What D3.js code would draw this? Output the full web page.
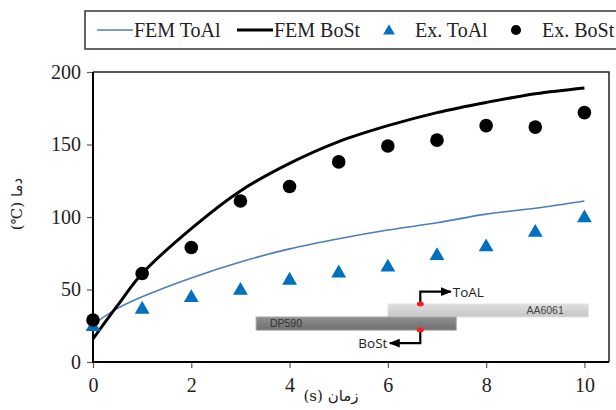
<!DOCTYPE html>
<html>
<head>
<meta charset="utf-8">
<script src="https://cdn.jsdelivr.net/npm/d3@7"></script>
<style>
  body { margin: 0; background: #fff; }
  svg { display: block; }
  .serif { font-family: "Liberation Serif", "DejaVu Serif", serif; }
</style>
</head>
<body>
<svg id="chart" width="616" height="410"></svg>
<script>
// Data
const time = [0, 1, 2, 3, 4, 5, 6, 7, 8, 9, 10]
const exToAl = [25, 37, 45, 50, 57, 62, 66, 74, 80, 90, 100]
const exBoSt = [29, 61, 79, 111, 121, 138, 149, 153, 163, 162, 172]

const femTime = [0, 0.5, 1, 2, 3, 4, 5, 6, 7, 8, 9, 10]
const femToAl = [26, 37, 45, 58, 69, 78, 85, 91, 96, 102, 106, 111]
const femBoSt = [16, 39, 61, 92, 118, 137, 152, 163, 172, 179, 185, 189]

const xTicks = [0, 2, 4, 6, 8, 10]
const yTicks = [0, 50, 100, 150, 200]

const legendItems = [
  { label: 'FEM ToAl', type: 'line', color: '#4a7ebb', width: 1.6, x: 97 },
  { label: 'FEM BoSt', type: 'line', color: '#000', width: 3, x: 237 },
  { label: 'Ex. ToAl', type: 'tri', color: '#0070c0', x: 380 },
  { label: 'Ex. BoSt', type: 'dot', color: '#000', x: 507 }
]

const svg = d3.select('#chart')
const plot = { left: 93, right: 609, top: 72, bottom: 362 }

const x = d3.scaleLinear().domain([0, 10.5]).range([plot.left, plot.right])
const y = d3.scaleLinear().domain([0, 200]).range([plot.bottom, plot.top])

// Legend box
svg.append('rect')
  .attr('x', 85).attr('y', 11).attr('width', 545).attr('height', 38)
  .attr('fill', '#fff').attr('stroke', '#333').attr('stroke-width', 1.5)

const legend = svg.append('g').attr('class', 'serif')
legendItems.forEach(d => {
  if (d.type === 'line') {
    legend.append('line')
      .attr('x1', d.x).attr('x2', d.x + 36).attr('y1', 30).attr('y2', 30)
      .attr('stroke', d.color).attr('stroke-width', d.width)
    legend.append('text').attr('x', d.x + 37).attr('y', 37)
      .attr('font-size', 20).attr('fill', '#222').text(d.label)
  } else {
    legend.append('path')
      .attr('d', d3.symbol(d.type === 'tri' ? d3.symbolTriangle : d3.symbolCircle, d.type === 'tri' ? 60 : 80)())
      .attr('transform', `translate(${d.x + 9},${d.type === 'tri' ? 31 : 30})`)
      .attr('fill', d.color)
    legend.append('text').attr('x', d.x + 35).attr('y', 37)
      .attr('font-size', 20).attr('fill', '#222').text(d.label)
  }
})

// Frame (top and right)
svg.append('path')
  .attr('d', `M${plot.left},${plot.top}H${plot.right}V${plot.bottom}`)
  .attr('fill', 'none').attr('stroke', '#222').attr('stroke-width', 1.5)

// Axes
const xAxis = svg.append('g')
  .attr('transform', `translate(0,${plot.bottom})`)
  .call(d3.axisBottom(x).tickValues(xTicks).tickSize(6).tickPadding(10).tickFormat(d3.format('d')))
const yAxis = svg.append('g')
  .attr('transform', `translate(${plot.left},0)`)
  .call(d3.axisLeft(y).tickValues(yTicks).tickSize(6).tickPadding(6).tickFormat(d3.format('d')))

;[xAxis, yAxis].forEach(a => {
  a.select('.domain').remove()
  a.selectAll('.tick line').attr('stroke', '#595959').attr('stroke-width', 1.2)
  a.selectAll('.tick text')
    .attr('class', 'serif')
    .attr('font-size', 20).attr('fill', '#222')
})

svg.append('line')
  .attr('x1', plot.left).attr('x2', plot.left).attr('y1', plot.top).attr('y2', plot.bottom + 1)
  .attr('stroke', '#000').attr('stroke-width', 2)
svg.append('line')
  .attr('x1', plot.left - 1).attr('x2', plot.right).attr('y1', plot.bottom).attr('y2', plot.bottom)
  .attr('stroke', '#000').attr('stroke-width', 2)

// Axis titles (right-to-left Persian)
svg.append('text')
  .attr('transform', 'translate(22,204) rotate(-90)')
  .attr('text-anchor', 'middle')
  .attr('direction', 'rtl')
  .attr('font-family', '"DejaVu Serif", "DejaVu Sans", serif')
  .attr('font-size', 15).attr('fill', '#222')
  .text('دما (℃)')

svg.append('text')
  .attr('x', 331).attr('y', 401)
  .attr('text-anchor', 'middle')
  .attr('direction', 'rtl')
  .attr('font-family', '"DejaVu Serif", "DejaVu Sans", serif')
  .attr('font-size', 15).attr('fill', '#222')
  .text('زمان (s)')

// Inset sketch of the joint (in data units)
const defs = svg.append('defs')
function grad (id, c1, c2) {
  const g = defs.append('linearGradient').attr('id', id)
    .attr('x1', 0).attr('x2', 0).attr('y1', 0).attr('y2', 1)
  g.append('stop').attr('offset', '0%').attr('stop-color', c1)
  g.append('stop').attr('offset', '100%').attr('stop-color', c2)
}
grad('gDP', '#8f8f8f', '#6f6f6f')
grad('gAA', '#dedede', '#c6c6c6')

const inset = svg.append('g')
const dpX = [3.32, 7.39], dpY = [31, 22]
const aaX = [6.0, 10.08], aaY = [40, 31]
const probeT = 6.66

inset.append('rect')
  .attr('x', x(aaX[0])).attr('y', y(aaY[0]))
  .attr('width', x(aaX[1]) - x(aaX[0])).attr('height', y(aaY[1]) - y(aaY[0]))
  .attr('fill', 'url(#gAA)').attr('stroke', '#e6e6e6')
inset.append('rect')
  .attr('x', x(dpX[0])).attr('y', y(dpY[0]))
  .attr('width', x(dpX[1]) - x(dpX[0])).attr('height', y(dpY[1]) - y(dpY[0]))
  .attr('fill', 'url(#gDP)').attr('stroke', '#a0a0a0')

inset.append('text').attr('x', x(3.6)).attr('y', y(dpY[1]) - 3)
  .attr('font-family', '"Liberation Sans", Arial, sans-serif')
  .attr('font-size', 10.5).attr('fill', '#333').text('DP590')
inset.append('text').attr('x', x(8.82)).attr('y', y(aaY[1]) - 3)
  .attr('font-family', '"Liberation Sans", Arial, sans-serif')
  .attr('font-size', 10.5).attr('fill', '#444').text('AA6061')

// arrow markers
defs.append('marker').attr('id', 'arr').attr('viewBox', '0 0 10 10')
  .attr('refX', 9).attr('refY', 5).attr('markerWidth', 5).attr('markerHeight', 5)
  .attr('orient', 'auto-start-reverse')
  .append('path').attr('d', 'M0,1L10,5L0,9Z').attr('fill', '#000')

inset.append('path')
  .attr('d', `M${x(probeT)},${y(aaY[0])}V${y(48.5)}H${x(7.28)}`)
  .attr('fill', 'none').attr('stroke', '#000').attr('stroke-width', 2.2)
  .attr('marker-end', 'url(#arr)')
inset.append('path')
  .attr('d', `M${x(probeT)},${y(dpY[1])}V${y(13)}H${x(6.04)}`)
  .attr('fill', 'none').attr('stroke', '#000').attr('stroke-width', 2.2)
  .attr('marker-end', 'url(#arr)')

inset.selectAll('ellipse').data([aaY[0], dpY[1]]).enter().append('ellipse')
  .attr('cx', x(probeT)).attr('cy', d => y(d))
  .attr('rx', 3.5).attr('ry', 2.5).attr('fill', '#ff1a1a')

inset.append('text').attr('x', x(7.32)).attr('y', y(48.5) + 5)
  .attr('font-family', '"Open Sans", "Liberation Sans", sans-serif')
  .attr('font-size', 13.5).attr('fill', '#222').text('ToAL')
inset.append('text').attr('x', x(5.99)).attr('y', y(13) + 5)
  .attr('text-anchor', 'end')
  .attr('font-family', '"Open Sans", "Liberation Sans", sans-serif')
  .attr('font-size', 13.5).attr('fill', '#222').text('BoSt')

// FEM curves
const line = vals => d3.line()
  .x((d, i) => x(femTime[i]))
  .y(d => y(d))
  .curve(d3.curveCatmullRom.alpha(0.5))(vals)

svg.append('path').attr('d', line(femToAl))
  .attr('fill', 'none').attr('stroke', '#4a7ebb').attr('stroke-width', 1.6)
svg.append('path').attr('d', line(femBoSt))
  .attr('fill', 'none').attr('stroke', '#000').attr('stroke-width', 3)

// Experimental points
svg.append('g').selectAll('path').data(exToAl).enter().append('path')
  .attr('d', d3.symbol(d3.symbolTriangle, 95)())
  .attr('transform', (d, i) => `translate(${x(time[i])},${y(d) + 1})`)
  .attr('fill', '#0070c0')
svg.append('g').selectAll('circle').data(exBoSt).enter().append('circle')
  .attr('cx', (d, i) => x(time[i])).attr('cy', d => y(d))
  .attr('r', 6.8).attr('fill', '#000')
</script>
</body>
</html>
